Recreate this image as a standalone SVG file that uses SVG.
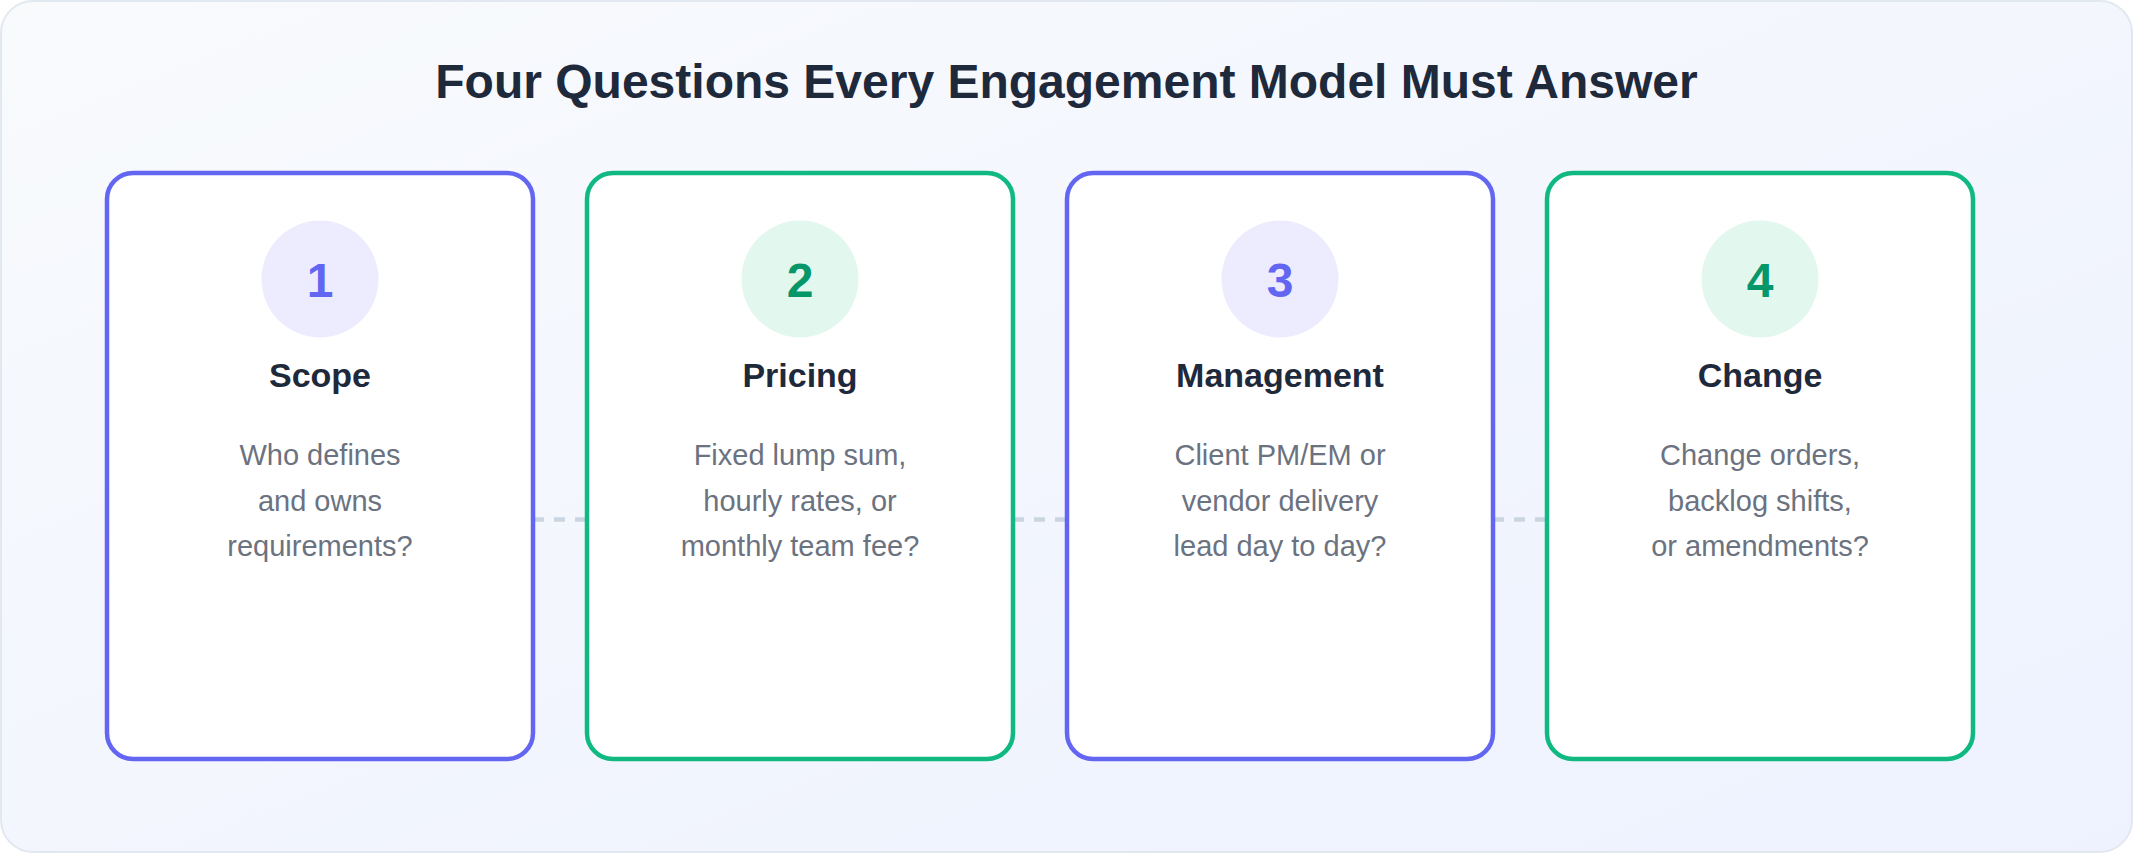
<svg xmlns="http://www.w3.org/2000/svg" width="2133" height="853" viewBox="0 0 2133 853">
  <defs>
    <linearGradient id="bg" x1="0" y1="0" x2="1" y2="1">
      <stop offset="0" stop-color="#f8fafc"/>
      <stop offset="1" stop-color="#eef2ff"/>
    </linearGradient>
    <style>
      .card { fill: #ffffff; stroke-width: 4.5; }
      .indigo { stroke: #6366f1; }
      .green { stroke: #10b981; }
      .circ-i { fill: #ececfe; }
      .circ-g { fill: #e2f7ee; }
      .num { font-family: "Liberation Sans", Arial, sans-serif; font-weight: bold; font-size: 48px; text-anchor: middle; }
      .num-i { fill: #6366f1; }
      .num-g { fill: #059669; }
      .title { font-family: "Liberation Sans", Arial, sans-serif; font-weight: bold; font-size: 48px; fill: #1e293b; text-anchor: middle; }
      .head { font-family: "Liberation Sans", Arial, sans-serif; font-weight: bold; font-size: 34px; fill: #1e293b; text-anchor: middle; }
      .desc { font-family: "Liberation Sans", Arial, sans-serif; font-size: 29px; fill: #6b7280; text-anchor: middle; }
      .conn { stroke: #cbd5e1; stroke-width: 4.5; stroke-dasharray: 11 10; fill: none; }
    </style>
  </defs>
  <rect x="1" y="1" width="2131" height="851" rx="32" fill="url(#bg)" stroke="#e2e8f0" stroke-width="2"/>
  <text class="title" x="1066.5" y="98">Four Questions Every Engagement Model Must Answer</text>

  <g id="connectors">
    <line class="conn" x1="533" y1="519.5" x2="587" y2="519.5"/>
    <line class="conn" x1="1013" y1="519.5" x2="1067" y2="519.5"/>
    <line class="conn" x1="1493" y1="519.5" x2="1547" y2="519.5"/>
  </g>

  <g id="node-scope">
    <rect class="card indigo" x="107" y="173" width="426" height="586" rx="26"/>
    <circle class="circ-i" cx="320" cy="279" r="58.5"/>
    <text class="num num-i" x="320" y="297">1</text>
    <text class="head" x="320" y="387">Scope</text>
    <text class="desc" x="320" y="465">Who defines</text>
    <text class="desc" x="320" y="511">and owns</text>
    <text class="desc" x="320" y="556">requirements?</text>
  </g>

  <g id="node-pricing">
    <rect class="card green" x="587" y="173" width="426" height="586" rx="26"/>
    <circle class="circ-g" cx="800" cy="279" r="58.5"/>
    <text class="num num-g" x="800" y="297">2</text>
    <text class="head" x="800" y="387">Pricing</text>
    <text class="desc" x="800" y="465">Fixed lump sum,</text>
    <text class="desc" x="800" y="511">hourly rates, or</text>
    <text class="desc" x="800" y="556">monthly team fee?</text>
  </g>

  <g id="node-management">
    <rect class="card indigo" x="1067" y="173" width="426" height="586" rx="26"/>
    <circle class="circ-i" cx="1280" cy="279" r="58.5"/>
    <text class="num num-i" x="1280" y="297">3</text>
    <text class="head" x="1280" y="387">Management</text>
    <text class="desc" x="1280" y="465">Client PM/EM or</text>
    <text class="desc" x="1280" y="511">vendor delivery</text>
    <text class="desc" x="1280" y="556">lead day to day?</text>
  </g>

  <g id="node-change">
    <rect class="card green" x="1547" y="173" width="426" height="586" rx="26"/>
    <circle class="circ-g" cx="1760" cy="279" r="58.5"/>
    <text class="num num-g" x="1760" y="297">4</text>
    <text class="head" x="1760" y="387">Change</text>
    <text class="desc" x="1760" y="465">Change orders,</text>
    <text class="desc" x="1760" y="511">backlog shifts,</text>
    <text class="desc" x="1760" y="556">or amendments?</text>
  </g>
</svg>
